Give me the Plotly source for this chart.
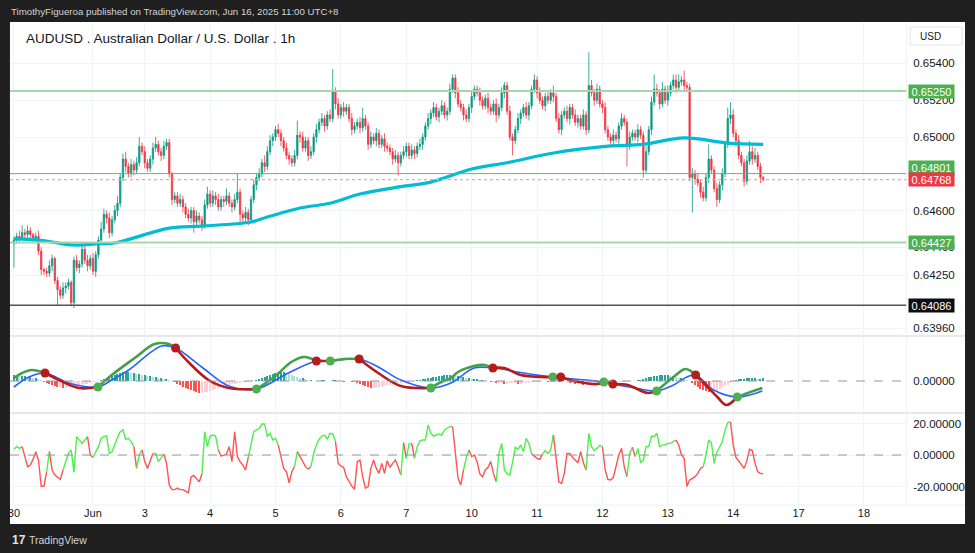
import plotly.graph_objects as go

# ---------------- data ----------------
# AUDUSD 1h candles; prices stored in pips above 0.64000
first_open_pips = 42
close_pips = [
    44, 46, 45, 48, 47, 49, 47, 45, 46, 38, 28, 27,
    26, 30, 34, 22, 17, 14, 18, 19, 21, 10, 33, 29,
    31, 39, 33, 30, 34, 27, 36, 44, 50, 58, 56, 48,
    55, 60, 64, 78, 88, 84, 80, 85, 82, 86, 95, 92,
    86, 83, 88, 94, 96, 92, 90, 95, 97, 80, 66, 68,
    64, 66, 62, 58, 56, 60, 54, 57, 55, 52, 63, 69,
    64, 68, 66, 62, 66, 65, 68, 64, 62, 66, 70, 58,
    56, 59, 55, 66, 74, 78, 80, 86, 84, 92, 98, 100,
    104, 102, 98, 94, 90, 88, 86, 90, 101, 100, 94, 98,
    90, 92, 100, 104, 108, 110, 106, 112, 110, 125, 118, 112,
    116, 114, 116, 110, 104, 106, 108, 105, 110, 106, 96, 100,
    98, 102, 96, 99, 95, 94, 92, 88, 90, 86, 90, 92,
    95, 90, 93, 91, 95, 96, 100, 106, 110, 113, 116, 111,
    114, 117, 112, 114, 126, 132, 124, 118, 116, 112, 110, 116,
    122, 126, 124, 120, 117, 121, 116, 114, 118, 112, 116, 124,
    128, 114, 100, 98, 104, 110, 113, 116, 112, 117, 126, 131,
    124, 120, 117, 122, 120, 124, 122, 110, 104, 112, 114, 110,
    116, 112, 108, 110, 106, 112, 104, 128, 124, 120, 126, 118,
    116, 104, 100, 98, 101, 99, 106, 110, 108, 96, 100, 102,
    100, 104, 101, 82, 92, 104, 119, 126, 124, 118, 126, 120,
    124, 128, 131, 127, 130, 131, 128, 127, 78, 80, 77, 75,
    70, 67, 78, 88, 82, 72, 66, 74, 80, 96, 110, 112,
    102, 98, 90, 86, 76, 87, 92, 88, 90, 84, 78, 76.8,
]
wick_up_pips = [
    2, 2, 3, 4, 2, 3, 2, 1, 2, 3, 2, 1,
    2, 3, 2, 1, 2, 2, 3, 2, 2, 1, 2, 3,
    2, 4, 2, 3, 2, 3, 2, 2, 4, 3, 2, 3,
    2, 3, 4, 2, 3, 4, 2, 3, 2, 3, 5, 2,
    3, 2, 2, 3, 4, 2, 2, 3, 2, 2, 1, 2,
    2, 3, 2, 2, 3, 2, 2, 3, 2, 2, 3, 4,
    2, 3, 2, 3, 2, 2, 4, 2, 2, 3, 10, 2,
    2, 3, 2, 2, 3, 2, 3, 2, 4, 3, 3, 2,
    2, 3, 2, 2, 3, 2, 2, 3, 8, 2, 3, 2,
    2, 3, 2, 3, 2, 3, 2, 2, 3, 12, 2, 3,
    2, 3, 2, 2, 3, 2, 2, 3, 6, 2, 2, 3,
    2, 3, 2, 2, 3, 2, 2, 2, 3, 2, 2, 3,
    2, 2, 3, 2, 2, 3, 2, 2, 3, 2, 3, 2,
    2, 3, 2, 2, 3, 2, 2, 3, 2, 2, 3, 2,
    3, 2, 2, 3, 2, 2, 3, 2, 2, 3, 2, 3,
    2, 2, 3, 2, 2, 3, 2, 2, 3, 2, 2, 3,
    2, 3, 2, 2, 3, 2, 4, 2, 3, 2, 2, 3,
    2, 2, 3, 2, 2, 3, 2, 18, 3, 2, 3, 2,
    2, 3, 2, 2, 3, 2, 2, 3, 2, 2, 3, 2,
    2, 3, 2, 2, 3, 2, 3, 8, 3, 2, 4, 2,
    4, 2, 3, 3, 4, 2, 5, 2, 2, 3, 2, 3,
    2, 3, 2, 8, 2, 2, 3, 2, 3, 2, 6, 7,
    3, 2, 3, 2, 2, 3, 6, 3, 4, 2, 2, 1,
]
wick_dn_pips = [
    13, 2, 2, 1, 2, 2, 3, 2, 2, 2, 3, 2,
    2, 2, 3, 2, 9, 2, 2, 3, 2, 2, 3, 2,
    3, 2, 2, 3, 2, 2, 3, 2, 2, 2, 3, 3,
    2, 2, 3, 2, 2, 3, 2, 2, 3, 2, 2, 2,
    3, 2, 2, 3, 2, 2, 3, 2, 2, 2, 3, 2,
    2, 2, 3, 2, 2, 3, 6, 2, 2, 3, 2, 2,
    2, 2, 3, 2, 2, 3, 2, 2, 3, 2, 2, 6,
    2, 3, 3, 2, 2, 3, 2, 2, 3, 2, 2, 3,
    2, 2, 3, 2, 2, 3, 2, 2, 2, 3, 2, 2,
    3, 2, 2, 3, 2, 2, 3, 2, 2, 2, 3, 2,
    2, 3, 2, 2, 3, 2, 2, 3, 2, 2, 3, 2,
    2, 3, 2, 2, 3, 2, 2, 3, 2, 7, 2, 2,
    3, 2, 2, 3, 2, 2, 3, 2, 2, 3, 2, 2,
    3, 2, 2, 3, 2, 2, 3, 2, 2, 3, 2, 2,
    3, 2, 2, 3, 2, 2, 3, 2, 2, 4, 2, 2,
    3, 2, 2, 8, 2, 2, 3, 2, 2, 3, 2, 2,
    3, 2, 2, 3, 2, 2, 3, 2, 2, 3, 2, 2,
    3, 2, 2, 3, 2, 2, 3, 2, 2, 3, 2, 2,
    3, 2, 2, 3, 2, 2, 3, 2, 2, 12, 3, 2,
    2, 3, 2, 4, 2, 2, 3, 2, 2, 3, 2, 2,
    3, 2, 2, 3, 2, 2, 3, 2, 2, 19, 3, 2,
    3, 2, 2, 3, 2, 2, 4, 2, 3, 2, 2, 3,
    2, 3, 2, 2, 3, 2, 2, 3, 2, 2, 3, 1,
]

# 200-period moving average (pips above 0.64000) at bar indices
sma_idx = [0, 9, 22, 31, 37, 57, 69, 87, 93, 105, 116, 127, 142, 153, 168, 181, 198, 218, 231, 246, 262, 275]
sma_pips = [44.6, 44, 41.3, 42, 42.4, 50.5, 51.6, 53.8, 56.5, 61.4, 64, 69, 73, 75.5, 82.6, 86, 91.3, 95, 96, 99.5, 96.7, 96]

level_prices = [0.65250, 0.64801, 0.64768, 0.64427, 0.64086]
price_ticks = [0.6396, 0.6425, 0.6440, 0.6460, 0.6480, 0.6500, 0.6520, 0.6540]

time_tick_idx = [0, 29, 48, 72, 96, 120, 144, 168, 192, 216, 240, 264, 288, 312]
time_tick_text = ["30", "Jun", "3", "4", "5", "6", "7", "10", "11", "12", "13", "14", "17", "18"]

# MACD pane (units of 1e-5)
macd_idx = [0, 3, 6.6, 11.4, 16.5, 23.8, 30.8, 35.9, 44.3, 51.6, 56.8, 59.3, 64, 71.4, 78.8, 89,
            95.6, 101.8, 106.6, 111, 116.1, 121.2, 126.7, 133.7, 142, 153, 156.8, 160.4, 163,
            168.9, 172.5, 175.8, 179.9, 186, 193.4, 197.8, 200.7, 205.5, 214.3, 216.5, 219.8,
            225.3, 232.6, 235.9, 242.1, 246.5, 250.2, 254.6, 258.2, 261.5, 265.5, 270.3, 274.7]
macd_val = [3, 8, 11, 8, 1, -7, -6, 6, 23, 37, 37, 33, 19, 1, -7, -8,
            4, 19, 24, 20, 20, 22, 22, 8, -5, -7, -1, 3, 9,
            15, 16, 13, 13, 6, 4, 4, 4, 0, -3, -1, -3,
            -4, -12, -10, 4, 12, 6, -6, -16, -24, -16, -11, -7]
macd_cross = ["", "", "", "R", "", "", "G", "", "", "", "", "R", "", "", "", "G",
              "", "", "", "R", "G", "", "R", "", "", "G", "", "", "",
              "", "", "R", "", "", "", "G", "R", "", "", "G", "R",
              "", "", "G", "", "", "R", "", "", "", "G", "", ""]
signal_idx = [0, 5.5, 11.4, 20.1, 30.8, 35.9, 42.1, 54.2, 59.3, 68.9, 78.8, 89, 100.7, 111, 116.1,
              126.7, 133.7, 142, 153, 160.4, 168.9, 175.8, 187.2, 197.8, 216.5, 219.8, 230, 235.9,
              242.1, 247, 250.2, 256.8, 265.5, 274.7]
signal_val = [-6, 4, 8, -2, -6, 1, 11, 35, 33, 14, -5, -8, 8, 20, 20,
              22, 14, 1, -7, -2, 13, 13, 8, 4, -1, -3, -8, -10,
              -4, 4, 6, -9, -16, -10]
hist_val = [
    6, 6, 5, 5, 5, 4, 4, 3, 3, 2, 1, -1,
    -2, -3, -4, -5, -6, -6, -7, -7, -6, -6, -5, -5,
    -4, -4, -3, -3, -2, -1, -1, 0, 1, 2, 3, 4,
    5, 6, 7, 8, 9, 9, 9, 8, 8, 7, 7, 6,
    6, 5, 5, 4, 4, 3, 3, 2, 2, 1, 0, -1,
    -3, -4, -6, -7, -8, -9, -10, -11, -12, -12, -11, -11,
    -10, -9, -8, -7, -6, -5, -5, -4, -3, -3, -2, -2,
    -1, -1, -1, 0, 0, 1, 2, 3, 4, 5, 6, 7,
    8, 9, 9, 9, 8, 7, 6, 5, 4, 3, 3, 2,
    1, 1, 0, 0, 0, 1, 1, 0, 0, 1, 1, 0,
    0, -1, 0, 0, -1, -1, -2, -3, -4, -5, -6, -7,
    -7, -7, -6, -6, -5, -4, -4, -3, -3, -2, -2, -1,
    -1, -1, 0, 0, 1, 1, 2, 2, 3, 3, 4, 4,
    5, 5, 6, 6, 6, 6, 5, 5, 4, 4, 3, 3,
    2, 2, 2, 1, 1, 0, 0, -1, -1, -2, -2, -2,
    -3, -3, -2, -2, -2, -3, -3, -2, -2, -2, -1, -1,
    -1, -1, 0, 0, -1, -1, 0, 0, -1, -1, -1, -1,
    -2, -2, -3, -3, -3, -4, -3, -3, -2, -2, -2, -1,
    -1, -1, -2, -2, -2, -1, -1, -1, -1, -1, 0, 0,
    0, 1, 1, 2, 3, 4, 4, 5, 5, 6, 6, 6,
    6, 5, 5, 4, 3, 3, 2, 1, 0, -2, -4, -6,
    -8, -9, -10, -11, -11, -10, -9, -8, -6, -5, -4, -2,
    -1, 1, 2, 2, 2, 3, 3, 3, 3, 2, 2, 3,
]

# Oscillator pane
osc_val = [
    3.6, 5.3, 4.2, 5.3, -2.1, -7.4, -6.4, -2.8, 2.1, -3.2, -20, -19.7,
    -10.6, 2.1, -9.5, -12.7, -14.4, -15.5, -9.5, -3.6, 1, 3.2, -11, 11.7,
    9.5, 7.4, 9.5, 11.7, 0, -1.5, 2.1, 5.3, 10.6, 11.7, 12.1, 1,
    2.1, 7, 11.2, 14.8, 15.9, 10, 10.6, 8.5, 5.3, -8.5, 0, 3.2,
    -4.2, -8.5, -3.2, 1, 1, -4.2, -1.5, 0.6, -5.3, -19, -22, -22,
    -21, -22, -22, -23, -24, -14, -13, -15, -17, -12, 14.8, 5.3,
    12, 12.7, 12, 3.2, -0.6, -0.2, 0.6, 5.3, -4.2, 14.8, -1, -4.2,
    -6.4, -9.5, -1.5, 7.4, 14.8, 15.9, 16.7, 19.7, 19.7, 11.7, 13.8, 9.5,
    10.6, 6.4, -0.6, -8.5, -10.6, -17.6, -10.6, -7.4, 2.1, -1, -3.6, -7.4,
    -9, -7.4, 1, 6.4, 10, 12, 12.7, 10, 13.8, 13.4, 8.5, -5.3,
    -7, -7.8, -13.8, -17, -19.7, -21.8, -4.2, -3.2, -13.8, -21, -20, -8.5,
    -3.2, -8.5, -11.7, -5.3, -11.7, -3.6, -7.8, -5.3, -3.2, -7.4, -12.7, 7.8,
    -2.1, 7, 7.4, -2.1, 5.3, 9, 9.5, 9.5, 19, 13.8, 12, 12.7,
    13.4, 12.7, 15.9, 17, 18, 18, 1, -14.8, -19, -9.5, -2.1, 3.2,
    -1, 0, -4.2, -12, -13.8, -9.5, -7.8, -4.2, -11.7, -17, 1, 7.4,
    -9.5, -12, -12.7, -4.9, 4.9, 3.6, 6.4, 2.1, 10.6, 7.4, 0.6, -1,
    -2.1, -2.8, 0.6, 2.8, 1, 3.2, 12.7, -1, -17, -18, -11.7, 1,
    1, -1.5, -3.2, -4.9, 2.1, -4.9, -9.5, 13.8, 5.3, 2.8, 4.2, 6.1,
    5.3, -9.5, -15.5, -15.9, -14.2, -7, 0, 4.2, -7.4, -13.8, 1, 4.9,
    -1, 4.2, -4.9, -3.2, 5.3, 5.3, 12, 11.7, 13.8, 5.3, 6.4, 6.4,
    7.4, 7.4, 8.5, 9.5, 6.4, 0, -2.1, -20, -15.9, -14.8, -13.8, -11.7,
    -8.5, -7.4, 0, 9.5, 7.8, -5.3, 2.1, 4.9, 8.5, 15.9, 20.6, 21,
    6.4, -1.5, -3.6, -5.7, -8.5, -3.6, 3.6, 2.8, -5.3, -10.6, -11.7, -12,
]
# segment ranges [start, end) drawn green; others red
osc_green_runs = [(0, 3), (12, 13), (18, 27), (29, 44), (45, 47), (51, 55), (69, 75), (86, 97),
                  (103, 104), (109, 118), (142, 143), (144, 146), (147, 161), (165, 167),
                  (177, 190), (194, 198), (210, 216), (225, 227), (228, 243), (253, 263)]

# ---------------- geometry helpers ----------------
W, H = 975, 553
def fx(p):  # pixel x -> paper
    return p / W
def fy(p):  # pixel y -> paper
    return 1 - p / H
def price(p):
    return round(0.64 + p / 10000.0, 6)

n = len(close_pips)
bars = list(range(n))
open_pips = [first_open_pips] + close_pips[:-1]
o = [price(v) for v in open_pips]
c = [price(v) for v in close_pips]
h = [price(max(a, b) + u) for a, b, u in zip(open_pips, close_pips, wick_up_pips)]
l = [price(min(a, b) - d) for a, b, d in zip(open_pips, close_pips, wick_dn_pips)]

UP, DN = "#089981", "#f23645"
FONT = "Liberation Sans, Arial, sans-serif"
TXT = "#131722"

fig = go.Figure()

# candles
fig.add_trace(go.Candlestick(
    x=bars, open=o, high=h, low=l, close=c, xaxis="x", yaxis="y",
    increasing=dict(line=dict(color=UP, width=0.8), fillcolor=UP),
    decreasing=dict(line=dict(color=DN, width=0.8), fillcolor=DN),
    whiskerwidth=0, showlegend=False, hoverinfo="skip"))

# moving average
fig.add_trace(go.Scatter(x=sma_idx, y=[price(v) for v in sma_pips], mode="lines",
                         line=dict(color="#00bcd4", width=3.2, shape="spline"),
                         xaxis="x", yaxis="y", showlegend=False, hoverinfo="skip"))

# MACD histogram
hcols = []
for k, v in enumerate(hist_val):
    prev = hist_val[k - 1] if k else v
    if v >= 0:
        hcols.append("#26a69a" if v >= prev else "#b2dfdb")
    else:
        hcols.append("#ff5252" if v < prev else "#ffcdd2")
fig.add_trace(go.Bar(x=bars, y=hist_val, marker=dict(color=hcols, line=dict(width=0)),
                     width=0.45, xaxis="x2", yaxis="y2", showlegend=False, hoverinfo="skip"))

# signal line
fig.add_trace(go.Scatter(x=signal_idx, y=signal_val, mode="lines",
                         line=dict(color="#2962ff", width=1.6, shape="spline", smoothing=1),
                         xaxis="x2", yaxis="y2", showlegend=False, hoverinfo="skip"))

# MACD line, coloured between crossovers
state = "G"
seg_x, seg_y = [macd_idx[0]], [macd_val[0]]
segments = []
for k in range(1, len(macd_idx)):
    seg_x.append(macd_idx[k]); seg_y.append(macd_val[k])
    if macd_cross[k]:
        segments.append((state, seg_x, seg_y))
        state = macd_cross[k]
        seg_x, seg_y = [macd_idx[k]], [macd_val[k]]
segments.append((state, seg_x, seg_y))
for st, sx, sy in segments:
    fig.add_trace(go.Scatter(x=sx, y=sy, mode="lines",
                             line=dict(color="#43a047" if st == "G" else "#b71c1c", width=2.6,
                                       shape="spline", smoothing=1),
                             xaxis="x2", yaxis="y2", showlegend=False, hoverinfo="skip"))
for col, key in (("#4caf50", "G"), ("#b71c1c", "R")):
    fig.add_trace(go.Scatter(
        x=[macd_idx[k] for k in range(len(macd_idx)) if macd_cross[k] == key],
        y=[macd_val[k] for k in range(len(macd_idx)) if macd_cross[k] == key],
        mode="markers", marker=dict(color=col, size=9), xaxis="x2", yaxis="y2",
        showlegend=False, hoverinfo="skip"))

# oscillator line, coloured runs
def is_green(k):
    return any(s <= k < e for s, e in osc_green_runs)
runs = []
k = 0
while k < n - 1:
    g = is_green(k)
    s = k
    while k < n - 1 and is_green(k) == g:
        k += 1
    runs.append((g, s, k))
for g, s, e in runs:
    fig.add_trace(go.Scatter(x=bars[s:e + 1], y=osc_val[s:e + 1], mode="lines",
                             line=dict(color="#4cef4c" if g else "#ff5252", width=1.4),
                             xaxis="x3", yaxis="y3", showlegend=False, hoverinfo="skip"))

# ---------------- layout ----------------
X0, X1 = 8, 906
price_top, price_bot = 22, 336
macd_bot = 413
osc_bot = 505
xr = [(X0 - 12) / 2.73, (X1 - 12) / 2.73]
p_hi = 100 + (137 - price_top) / 1.84
p_lo = 100 - (price_bot - 137) / 1.84

grid = "#f0f3fa"
xcommon = dict(range=xr, domain=[fx(X0), fx(X1)], tickvals=time_tick_idx, showgrid=True,
               gridcolor=grid, gridwidth=1, zeroline=False, showline=False, ticks="",
               fixedrange=True)

shapes = [
    dict(type="rect", xref="paper", yref="paper", x0=fx(8), x1=fx(965), y0=fy(524), y1=fy(22),
         fillcolor="white", line=dict(width=0), layer="below"),
    dict(type="line", xref="paper", yref="paper", x0=fx(8), x1=fx(965), y0=fy(336), y1=fy(336),
         line=dict(color="#e6e8ee", width=2)),
    dict(type="line", xref="paper", yref="paper", x0=fx(8), x1=fx(965), y0=fy(413), y1=fy(413),
         line=dict(color="#e6e8ee", width=2)),
    dict(type="line", xref="paper", yref="paper", x0=fx(8), x1=fx(965), y0=fy(505), y1=fy(505),
         line=dict(color="#eef0f4", width=1)),
    dict(type="line", xref="paper", yref="paper", x0=fx(906.5), x1=fx(906.5), y0=fy(505), y1=fy(22),
         line=dict(color="#eef0f4", width=1)),
    dict(type="rect", xref="paper", yref="paper", x0=fx(910), x1=fx(962), y0=fy(45), y1=fy(27),
         fillcolor="white", line=dict(color="#e0e3eb", width=1)),
    dict(type="line", xref="x2 domain", yref="y2", x0=0, x1=1, y0=0, y1=0,
         line=dict(color="#9598a1", width=1, dash="dash")),
    dict(type="line", xref="x3 domain", yref="y3", x0=0, x1=1, y0=0, y1=0,
         line=dict(color="#9598a1", width=1, dash="dash")),
]
level_styles = [
    dict(color="#a5d6a7", width=2),
    dict(color="#66bb6a", width=1),
    dict(color="#f7a1a9", width=1.2, dash="dot"),
    dict(color="#a5d6a7", width=2),
    dict(color="#50535e", width=1.5),
]
for lv, st in zip(level_prices, level_styles):
    shapes.append(dict(type="line", xref="x domain", yref="y", x0=0, x1=1, y0=lv, y1=lv, line=st))

label_bg = ["#4caf50", "#4caf50", "#f23645", "#4caf50", "#0c0e12"]
label_shift = [0, 6.5, 0, 0, 0]   # TradingView nudges the overlapping label up
annotations = []
for lv, bg, sh in zip(level_prices, label_bg, label_shift):
    annotations.append(dict(xref="paper", yref="y", x=fx(908), y=lv, xanchor="left", yanchor="middle",
                            yshift=sh, text="%.5f" % lv, showarrow=False, bgcolor=bg, width=45,
                            height=13, align="center", font=dict(family=FONT, size=11, color="white"),
                            borderpad=0))
annotations += [
    dict(xref="paper", yref="paper", x=fx(7), y=fy(11), xanchor="left", yanchor="middle",
         text="TimothyFigueroa published on TradingView.com, Jun 16, 2025 11:00 UTC+8",
         showarrow=False, font=dict(family=FONT, size=9.7, color="#d1d4dc")),
    dict(xref="paper", yref="paper", x=fx(22), y=fy(38), xanchor="left", yanchor="middle",
         text="AUDUSD . Australian Dollar / U.S. Dollar . 1h",
         showarrow=False, font=dict(family=FONT, size=13.5, color=TXT)),
    dict(xref="paper", yref="paper", x=fx(918), y=fy(36), xanchor="left", yanchor="middle",
         text="USD", showarrow=False, font=dict(family=FONT, size=10, color=TXT)),
    dict(xref="paper", yref="paper", x=fx(8), y=fy(540), xanchor="left", yanchor="middle",
         text="<b>17</b>", showarrow=False,
         font=dict(family=FONT, size=12, color="#e0e3eb")),
    dict(xref="paper", yref="paper", x=fx(25), y=fy(540), xanchor="left", yanchor="middle",
         text="TradingView", showarrow=False,
         font=dict(family=FONT, size=10.5, color="#d1d4dc")),
]

fig.update_layout(
    width=W, height=H, margin=dict(l=0, r=0, t=0, b=0),
    paper_bgcolor="#1f1f1f", plot_bgcolor="white",
    font=dict(family=FONT, size=11, color=TXT),
    showlegend=False, bargap=0, hovermode=False,
    xaxis=dict(**xcommon, anchor="y", showticklabels=False, rangeslider=dict(visible=False)),
    xaxis2=dict(**xcommon, anchor="y2", matches="x", showticklabels=False),
    xaxis3=dict(**xcommon, anchor="y3", matches="x", showticklabels=True,
                ticktext=time_tick_text, tickfont=dict(family=FONT, size=11, color=TXT)),
    yaxis=dict(domain=[fy(price_bot), fy(price_top)], range=[price(p_lo), price(p_hi)], side="right",
               anchor="x", tickvals=price_ticks, ticktext=["%.5f" % v for v in price_ticks],
               showgrid=True, gridcolor=grid, zeroline=False, ticks="", ticklabelstandoff=6,
               tickfont=dict(family=FONT, size=11.5, color=TXT), fixedrange=True),
    yaxis2=dict(domain=[fy(macd_bot), fy(price_bot)], range=[-32, 45], side="right", anchor="x2",
                tickvals=[0], ticktext=["0.00000"], showgrid=False, zeroline=False, ticks="",
                ticklabelstandoff=6, tickfont=dict(family=FONT, size=11.5, color=TXT), fixedrange=True),
    yaxis3=dict(domain=[fy(osc_bot), fy(macd_bot)], range=[-31.75, 26.67], side="right", anchor="x3",
                tickvals=[-20, 0, 20], ticktext=["-20.00000", "0.00000", "20.00000"], showgrid=True,
                gridcolor=grid, zeroline=False, ticks="", ticklabelstandoff=6,
                tickfont=dict(family=FONT, size=11.5, color=TXT), fixedrange=True),
    shapes=shapes, annotations=annotations,
)

fig.write_html("out.html", config={"displayModeBar": False},
               post_script="document.body.style.margin='0';document.body.style.padding='0';"
                           "document.body.style.overflow='hidden';")
